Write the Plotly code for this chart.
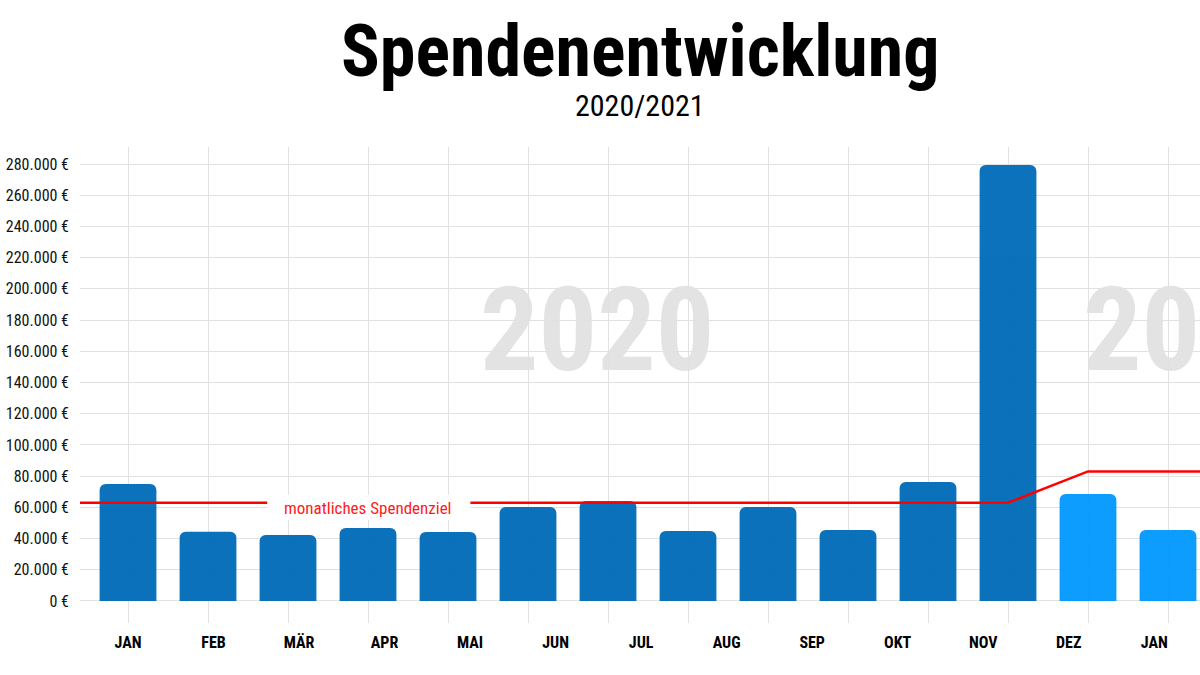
import plotly.graph_objects as go

# ---- data ----
months = ["JAN", "FEB", "MÄR", "APR", "MAI", "JUN", "JUL", "AUG", "SEP", "OKT", "NOV", "DEZ", "JAN"]
donations = [75000, 44400, 42300, 46800, 44200, 60200, 64000, 44800, 60200, 45500, 76200, 279400, 68600, 45500]
bar_year = ["2020"] * 12 + ["2021"] * 2
monthly_target = [63000] * 12 + [83000] * 2
y_ticks = list(range(0, 280001, 20000))
target_label = "monatliches Spendenziel"
title_text = "Spendenentwicklung"
subtitle_text = "2020/2021"

# ---- styles ----
FONT = "Roboto Condensed, DejaVu Sans Condensed, sans-serif"
year_colors = {"2020": "#006AB8", "2021": "#0098FF"}
grid_color = "#e1e1e1"
x_range = [-0.6, 13.4]
y_range = [-14100, 290900]

bar_x = list(range(len(donations)))
label_pos = [i * 1.069 for i in range(len(months))]

def euro(v):
    return f"{v:,}".replace(",", ".") + " €"

fig = go.Figure()
fig.add_trace(go.Bar(
    x=bar_x, y=donations,
    marker=dict(color=[year_colors[y] for y in bar_year], cornerradius=6, line_width=0),
    opacity=0.95,
    width=0.71,
    hoverinfo="skip",
    xaxis="x", yaxis="y",
))

line_x = [x_range[0]] + bar_x + [x_range[1]]
line_y = [monthly_target[0]] + monthly_target + [monthly_target[-1]]
fig.add_trace(go.Scatter(
    x=line_x, y=line_y, mode="lines",
    line=dict(color="#ff0000", width=2.5),
    hoverinfo="skip", xaxis="x2", yaxis="y",
))

# white gap behind the target label
fig.add_shape(type="rect", xref="x", yref="y", x0=1.74, x1=4.28, y0=52000, y1=68000,
              fillcolor="white", line_width=0, layer="above")
fig.add_annotation(x=3, y=monthly_target[3] - 3300, xref="x", yref="y", text=target_label,
                   showarrow=False, font=dict(family=FONT, size=17, color="#ff1a1a"),
                   xanchor="center", yanchor="middle")

# year watermarks (below gridlines)
fig.add_shape(type="rect", xref="x", yref="y", x0=4.4, x1=7.33, y0=154000, y1=204000,
              line_width=0, fillcolor="rgba(0,0,0,0)", layer="below",
              label=dict(text="2020", textposition="middle center",
                         font=dict(family=FONT, size=116, color="#e3e3e3", weight="bold")))
fig.add_shape(type="rect", xref="x", yref="y", x0=11.9, x1=14.9, y0=154000, y1=204000,
              line_width=0, fillcolor="rgba(0,0,0,0)", layer="below",
              label=dict(text="2021", textposition="middle left", padding=0,
                         font=dict(family=FONT, size=116, color="#e3e3e3", weight="bold")))

# titles
fig.add_annotation(x=0.5, y=1.2, xref="paper", yref="paper", text=title_text, showarrow=False,
                   font=dict(family=FONT, size=72, color="#000000", weight="bold"),
                   xanchor="center", yanchor="middle")
fig.add_annotation(x=0.5, y=1.087, xref="paper", yref="paper", text=subtitle_text, showarrow=False,
                   font=dict(family=FONT, size=30, color="#000000"),
                   xanchor="center", yanchor="middle")

fig.update_layout(
    width=1200, height=675,
    margin=dict(l=80, r=0, t=147, b=52),
    paper_bgcolor="white", plot_bgcolor="rgba(0,0,0,0)",
    showlegend=False,
    font=dict(family=FONT, color="#000000"),
    xaxis=dict(range=x_range, tickvals=bar_x, showticklabels=False, showgrid=True, automargin=False,
               gridcolor=grid_color, gridwidth=1, zeroline=False, showline=False, ticks=""),
    xaxis2=dict(range=x_range, overlaying="x", side="bottom", tickvals=label_pos, ticktext=months,
                showgrid=False, zeroline=False, showline=False, ticks="", automargin=False,
                tickfont=dict(family=FONT, size=16, color="#000000", weight="bold"),
                ticklabelstandoff=8),
    yaxis=dict(range=y_range, tickvals=y_ticks, ticktext=[euro(v) for v in y_ticks], automargin=False,
               showgrid=True, gridcolor=grid_color, gridwidth=1, zeroline=False,
               showline=False, ticks="", tickfont=dict(family=FONT, size=16, color="#111111"),
               ticklabelstandoff=10),
)

fig.write_html("out.html", config={"displayModeBar": False},
               post_script="document.body.style.margin='0px';")
